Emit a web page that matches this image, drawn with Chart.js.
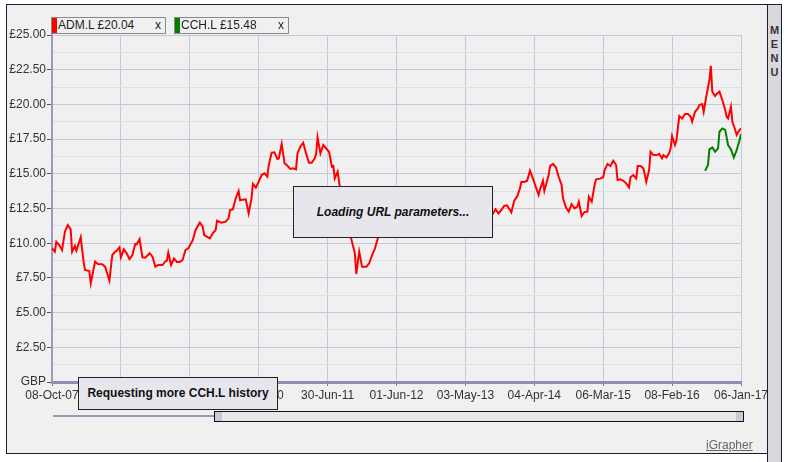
<!DOCTYPE html>
<html>
<head>
<meta charset="utf-8">
<script src="https://cdn.jsdelivr.net/npm/chart.js@4.4.1/dist/chart.umd.min.js"></script>
<style>
  body { margin: 0; background: #fff; font-family: "Liberation Sans", Arial, sans-serif; }
  #frame { position: absolute; left: 6px; top: 4px; width: 760px; height: 448px; border: 1px solid #1c1c3a; background: #f0f0f0; }
  #wrap { position: absolute; left: 0; top: 0; width: 793px; height: 462px; }
  canvas { position: absolute; left: 0; top: 0; }
  .legend { position: absolute; top: 17px; height: 15px; width: 113px; border: 1px solid #8a8a8a; background: #f0f0f0; font-size: 12px; line-height: 15px; color: #222; }
  .legend .sw { position: absolute; left: 0; top: 0; width: 5px; height: 15px; }
  .legend .tx { position: absolute; left: 6px; top: 0; }
  .legend .x { position: absolute; right: 4px; top: 0; }
  .msg { position: absolute; border: 1px solid #222; background: #e6e6ec; font-size: 12px; font-weight: bold; color: #111; text-align: center; }
  #menu { position: absolute; left: 767px; top: 4px; width: 15px; height: 458px; background: #d9d9dc; border-left: 1px solid #1c1c3a; border-right: 1px solid #1c1c3a; border-top: 1px solid #1c1c3a; font-size: 11px; font-weight: bold; color: #3a3040; text-align: center; line-height: 14px; padding-top: 18px; box-sizing: border-box; }
  #track { position: absolute; left: 53px; top: 415px; width: 161px; height: 2px; background: #9a9ab8; }
  #scroll { position: absolute; left: 214px; top: 411px; width: 528px; height: 9px; border: 1px solid #111; background: #e8e8ea; }
  #scroll .g { position: absolute; top: 0; width: 7px; height: 9px; background: #c8c8d8; }
  #brand { position: absolute; left: 706px; top: 438px; font-size: 12px; color: #666; text-decoration: underline; }
</style>
</head>
<body>
<div id="frame"></div>
<div id="wrap"><canvas id="grafico" width="793" height="462"></canvas></div>

<div class="legend" style="left:51px"><div class="sw" style="background:#ff0000"></div><span class="tx">ADM.L £20.04</span><span class="x">x</span></div>
<div class="legend" style="left:174px"><div class="sw" style="background:#008000"></div><span class="tx">CCH.L £15.48</span><span class="x">x</span></div>

<div class="msg" style="left:293px;top:186px;width:198px;height:50px;line-height:50px;font-style:italic">Loading URL parameters...</div>
<div class="msg" style="left:78px;top:377px;width:198px;height:31px;line-height:31px">Requesting more CCH.L history</div>

<div id="track"></div>
<div id="scroll"><div class="g" style="left:0"></div><div class="g" style="right:0"></div></div>
<div id="brand">iGrapher</div>
<div id="menu">M<br>E<br>N<br>U</div>

<script>
// x values are week numbers since 08-Oct-07 (48 weeks per axis tick)
const dateLabels = ['08-Oct-07', '08-Sep-08', '10-Aug-09', '12-Jul-10', '30-Jun-11', '01-Jun-12',
                    '03-May-13', '04-Apr-14', '06-Mar-15', '08-Feb-16', '06-Jan-17'];

const admWeeks = [0, 2, 3, 5, 7, 9, 11, 13, 14, 16, 17, 20, 22, 23, 26, 27, 30, 32, 35, 37,
  40, 42, 44, 45, 47, 48, 50, 52, 54, 56, 58, 59, 61, 63, 65, 68, 70, 72, 74, 77,
  79, 80, 81, 83, 85, 87, 89, 91, 93, 95, 98, 100, 103, 105, 106, 110, 112, 114, 115, 118,
  121, 123, 124, 126, 128, 130, 131, 135, 137, 139, 140, 142, 144, 146, 148, 150, 151, 153, 155, 157,
  158, 160, 162, 164, 166, 168, 170, 171, 173, 175, 177, 179, 181, 183, 184, 185, 187, 189, 190, 193,
  195, 196, 197, 199, 201, 203, 206, 208, 211, 212, 214, 216, 219, 221, 223, 225, 227, 229, 231, 233,
  235, 237, 239, 241, 243, 245, 247, 249, 251, 253, 255, 257, 259, 261, 263, 265, 267, 269, 271, 273,
  275, 277, 279, 281, 283, 285, 287, 289, 291, 293, 295, 297, 299, 301, 303, 305, 307, 309, 311, 313,
  315, 317, 319, 320, 322, 324, 326, 327, 329, 331, 333, 335, 337, 339, 340, 342, 343, 346, 347, 349,
  351, 353, 355, 356, 358, 360, 362, 364, 366, 367, 369, 371, 373, 374, 376, 378, 379, 382, 384, 385,
  387, 389, 391, 393, 394, 396, 398, 400, 402, 403, 405, 407, 408, 410, 412, 414, 416, 417, 419, 421,
  423, 425, 426, 428, 430, 431, 432, 434, 435, 437, 439, 441, 443, 445, 446, 448, 450, 451, 453, 454,
  456, 458, 459, 460, 462, 463, 465, 467, 469, 470, 471, 473, 474, 476, 477, 479, 480];

const admPrices = [9.65, 9.39, 10.1, 9.87, 9.51, 10.83, 11.31, 11.0, 9.39, 9.8, 9.46, 10.43, 8.67, 8.07, 8.0, 7.11, 8.67, 8.5, 8.48, 8.31,
  7.3, 9.15, 9.39, 9.44, 9.7, 8.98, 9.56, 9.27, 8.86, 9.15, 9.94, 9.92, 10.3, 8.98, 8.96, 9.27, 9.03, 8.31, 8.43, 8.43,
  8.7, 8.74, 9.31, 8.43, 8.91, 8.65, 8.65, 8.79, 9.51, 9.63, 10.2, 10.95, 11.48, 11.19, 10.59, 10.35, 10.71, 10.95, 11.62, 11.48,
  11.55, 11.79, 12.39, 12.44, 13.23, 13.76, 13.11, 13.16, 12.15, 13.23, 14.27, 14.0, 14.43, 14.91, 15.03, 14.79, 15.63, 16.52, 16.55, 16.07,
  16.11, 17.15, 15.76, 15.58, 15.35, 15.39, 15.32, 16.47, 16.95, 17.24, 16.47, 15.8, 15.8, 16.11, 16.4, 17.63, 16.47, 17.07, 16.95, 16.59,
  15.51, 15.56, 14.67, 15.15, 13.71, 12.6, 11.4, 10.5, 9.27, 7.78, 9.39, 8.31, 8.31, 8.55, 9.15, 9.63, 10.35, 10.8, 10.6, 11.2,
  11.0, 11.6, 11.9, 11.5, 12.1, 12.6, 12.3, 12.9, 13.2, 12.7, 12.4, 12.8, 12.2, 11.8, 12.3, 12.6, 12.0, 11.7, 12.2, 12.5,
  12.9, 12.6, 12.1, 11.9, 12.4, 12.2, 12.7, 12.5, 12.0, 12.3, 12.6, 12.4, 12.1, 12.5, 12.3, 12.0, 12.1, 12.44, 12.15, 12.39,
  12.68, 12.73, 12.39, 12.22, 13.06, 13.35, 13.95, 14.43, 14.41, 14.5, 15.22, 14.67, 14.07, 13.47, 13.88, 14.5, 13.78, 14.91, 15.56, 15.71,
  15.47, 14.79, 14.19, 13.23, 12.58, 12.27, 12.82, 12.51, 12.63, 12.99, 11.96, 12.25, 12.27, 13.35, 12.99, 14.19, 14.6, 14.65, 14.75, 15.27,
  15.71, 15.56, 15.94, 15.63, 14.55, 14.6, 14.5, 14.31, 14.02, 14.75, 14.91, 14.67, 15.56, 15.56, 15.39, 14.43, 15.27, 16.59, 16.35, 16.35,
  16.43, 16.11, 16.35, 16.18, 16.52, 16.83, 17.72, 17.07, 17.38, 19.16, 18.99, 19.31, 19.31, 19.11, 18.75, 19.47, 19.71, 19.96, 20.03, 19.47,
  20.68, 21.76, 22.77, 20.92, 20.6, 20.75, 20.92, 20.32, 19.6, 19.11, 18.99, 19.83, 18.75, 18.16, 17.8, 18.16, 18.27];

const cchWeeks = [455, 457, 458, 460, 462, 464, 465, 467, 469, 471, 473, 475, 477, 479, 480];
const cchPrices = [15.22, 15.63, 16.76, 16.9, 16.59, 16.83, 18.03, 18.27, 18.16, 17.07, 16.76, 16.18, 16.71, 17.43, 17.87];

const GRAFICO = document.getElementById('grafico');
const FUENTE = { family: '"Liberation Sans", Arial, sans-serif', size: 12 };

function puntos(xs, ys) {
  return xs.map((x, i) => ({ x: x, y: ys[i] }));
}

let graficaLinea = new Chart(GRAFICO, {
  type: 'line',
  data: {
    datasets: [{
      label: 'ADM.L',
      data: puntos(admWeeks, admPrices),
      borderColor: '#ff0000',
      borderWidth: 2,
      pointRadius: 0,
      tension: 0
    }, {
      label: 'CCH.L',
      data: puntos(cchWeeks, cchPrices),
      borderColor: '#008000',
      borderWidth: 2,
      pointRadius: 0,
      tension: 0
    }]
  },
  options: {
    responsive: false,
    animation: false,
    layout: { padding: { left: 0, top: 35, right: 52, bottom: 60 } },
    plugins: {
      legend: { display: false },
      tooltip: { enabled: false }
    },
    scales: {
      x: {
        type: 'linear',
        min: 0,
        max: 480,
        afterFit: (s) => { s.height = 20; },
        ticks: {
          stepSize: 48,
          autoSkip: false,
          maxRotation: 0,
          padding: 2,
          color: '#333',
          font: FUENTE,
          callback: (v) => dateLabels[Math.round(v / 48)]
        },
        grid: { color: '#c8c8dc', tickLength: 4, tickColor: '#7878a0' },
        border: { color: '#8c8cb4', width: 3 }
      },
      y: {
        min: 0,
        max: 25,
        afterFit: (s) => { s.width = 52; },
        ticks: {
          stepSize: 1.25,
          autoSkip: false,
          padding: 1,
          color: '#333',
          font: FUENTE,
          callback: (v) => (v % 2.5 !== 0 ? '' : (v === 0 ? 'GBP' : '\u00a3' + v.toFixed(2)))
        },
        grid: {
          tickLength: 5,
          color: (c) => (c.tick && c.tick.value % 2.5 !== 0 ? '#dedee8' : '#c6c6dc'),
          tickColor: (c) => (c.tick && c.tick.value % 2.5 !== 0 ? 'rgba(0,0,0,0)' : '#555')
        },
        border: { color: '#9a9ac0', width: 2 }
      }
    }
  }
});
</script>
</body>
</html>
